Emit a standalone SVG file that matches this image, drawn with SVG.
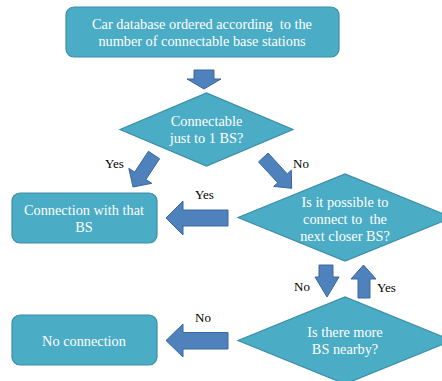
<svg xmlns="http://www.w3.org/2000/svg" width="442" height="381" viewBox="0 0 442 381">
<style>
.box{fill:#4BACC6;stroke:#3C8DA5;stroke-width:1.2}
.arr{fill:#4F81BD;stroke:#3A679C;stroke-width:1}
.t{font-family:"Liberation Serif","Times New Roman",serif;font-size:14.3px;fill:#FFFFFF;text-anchor:middle;white-space:pre}
.l{font-family:"Liberation Serif","Times New Roman",serif;font-size:13px;fill:#000000;white-space:pre}
</style>
<rect width="442" height="381" fill="#FFFFFF"/>
<g id="start">
<rect class="box" x="66" y="7" width="273" height="50" rx="8"/>
<text class="t" x="202" y="29" xml:space="preserve">Car database ordered according  to the</text>
<text class="t" x="202" y="46">number of connectable base stations</text>
</g>
<g id="decision1">
<polygon class="box" points="120,129.5 206.5,93 293,129.5 206.5,166"/>
<text class="t" x="206.5" y="126">Connectable</text>
<text class="t" x="206.5" y="143">just to 1 BS?</text>
</g>
<g id="connect">
<rect class="box" x="12" y="193" width="145" height="50" rx="8"/>
<text class="t" x="84" y="215">Connection with that</text>
<text class="t" x="84" y="232">BS</text>
</g>
<g id="decision2">
<polygon class="box" points="238,217.5 345,174 452,217.5 345,261"/>
<text class="t" x="345" y="207">Is it possible to</text>
<text class="t" x="345" y="223.5" xml:space="preserve">connect to  the</text>
<text class="t" x="345" y="241">next closer BS?</text>
</g>
<g id="noconn">
<rect class="box" x="12" y="315" width="145" height="50" rx="8"/>
<text class="t" x="84" y="346">No connection</text>
</g>
<g id="decision3">
<polygon class="box" points="238,340.5 345,297 452,340.5 345,384"/>
<text class="t" x="345" y="337">Is there more</text>
<text class="t" x="345" y="354">BS nearby?</text>
</g>
<g id="connectors">
<polygon class="arr" points="194,70 214,70 214,79 221,79 204,89 187,79 194,79"/>
<polygon class="arr" points="148.4,151.3 159.6,158.7 145.9,179.5 151.8,183.3 133,187 128.8,168.3 134.7,172.1"/>
<polygon class="arr" points="268.1,153.1 287.3,173.9 291.3,170.2 291.7,188.3 273.7,186.4 277.7,182.7 258.5,161.9"/>
<polygon class="arr" points="228,210 183,210 183,201 166,218 183,235 183,226 228,226"/>
<polygon class="arr" points="228,332.5 183,332.5 183,324 166,340.5 183,357 183,349 228,349"/>
<polygon class="arr" points="319,265 333,265 333,277 339,277 327,297 315,277 319,277"/>
<polygon class="arr" points="358,298 370,298 370,279 376,279 363.5,265 351,279 358,279"/>
<text class="l" x="105" y="168">Yes</text>
<text class="l" x="293" y="168">No</text>
<text class="l" x="195" y="199">Yes</text>
<text class="l" x="195" y="322">No</text>
<text class="l" x="294" y="291">No</text>
<text class="l" x="377" y="292">Yes</text>
</g>
</svg>
